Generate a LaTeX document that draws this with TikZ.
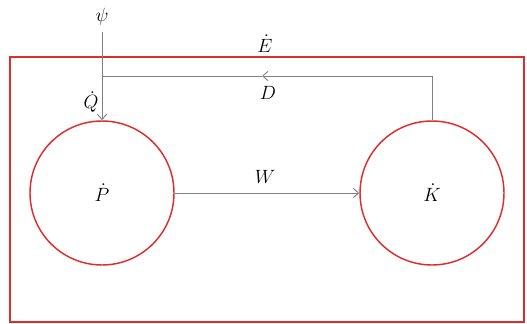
\documentclass[tikz,border=0pt]{standalone}
\usetikzlibrary{arrows.meta}
\definecolor{ringred}{RGB}{222,45,45}
\begin{document}
\begin{tikzpicture}[x=0.75pt,y=-0.75pt,
  ring/.style={circle, draw=ringred, line width=1.1pt, minimum size=108pt, inner sep=0pt, font=\Large},
  flow/.style={draw=black!50, line width=0.7pt},
  tip/.style={-{Straight Barb[length=4pt,width=7pt]}},
  lbl/.style={font=\Large, inner sep=0pt}]
\useasboundingbox (0,0) rectangle (527,324);
\draw[ringred, line width=1.3pt] (10,57) rectangle (524,322);
\node[ring] (P) at (102,193) {$\dot{P}$};
\node[ring] (K) at (432,193) {$\dot{K}$};
\node[lbl] (psi) at (102,17) {$\psi$};
\coordinate (turn) at (432,76);
\coordinate (mid) at (262,76);
\coordinate (join) at (102,76);
\draw[flow, tip, shorten <=5pt] (psi.south) -- (P.north);
\draw[flow, tip] (K.north) -- (turn) -- (mid);
\draw[flow] (mid) -- (join);
\draw[flow, tip] (P.east) -- (K.west);
\node[lbl] (E) at (265,44) {$\dot{E}$};
\node[lbl] (D) at (268,93) {$D$};
\node[lbl] (Q) at (91,102) {$\dot{Q}$};
\node[lbl] (W) at (265,177) {$W$};
\end{tikzpicture}
\end{document}
